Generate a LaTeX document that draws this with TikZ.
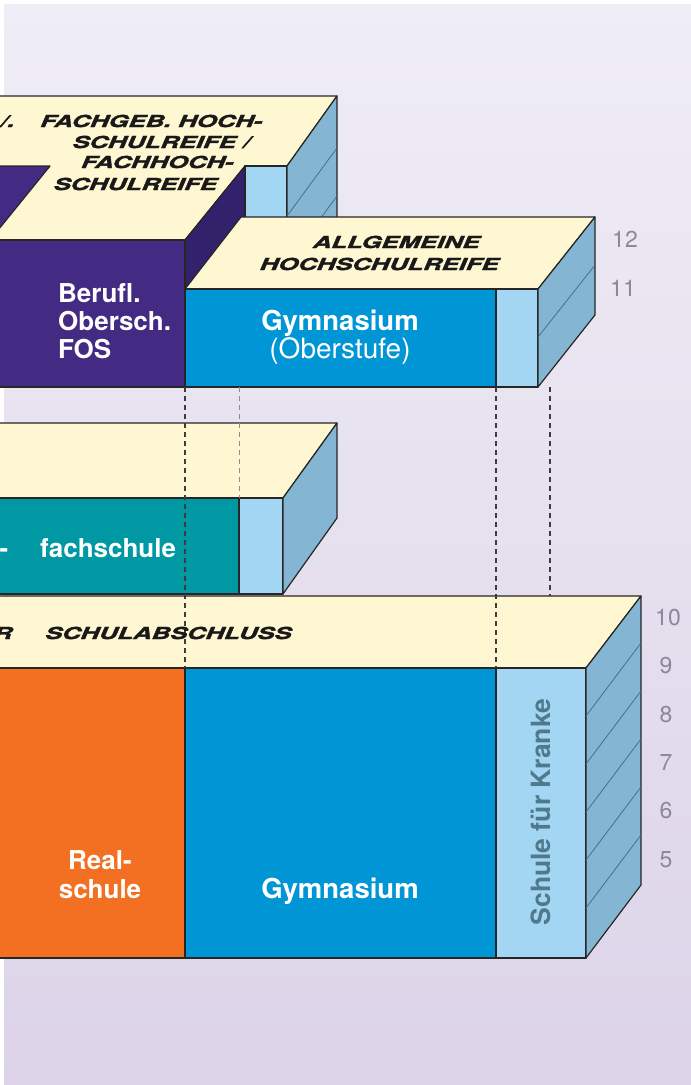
\documentclass[tikz,border=0pt]{standalone}
\usepackage{fontspec}
\setmainfont{TeX Gyre Heros}
\newfontfamily\headfont[FakeStretch=1.55,FakeBold=2.2,FakeSlant=0.1]{TeX Gyre Heros}
\definecolor{yel}{HTML}{FFF7D2}
\definecolor{purp}{HTML}{432B83}
\definecolor{dpurp}{HTML}{34216B}
\definecolor{gblue}{HTML}{0096D6}
\definecolor{lblue}{HTML}{A3D6F2}
\definecolor{sblue}{HTML}{84B5D3}
\definecolor{tealc}{HTML}{0099A3}
\definecolor{orng}{HTML}{F36F21}
\definecolor{outl}{HTML}{262626}
\definecolor{numc}{HTML}{8C8896}
\definecolor{krank}{HTML}{4F798C}
\definecolor{bgtop}{HTML}{EFEDF5}
\definecolor{bgbot}{HTML}{DCD3E8}
\definecolor{rowl}{HTML}{4D6E84}
\tikzset{
  face/.style={draw=outl, line width=1.2pt, line join=round},
  rowline/.style={draw=rowl, line width=0.8pt},
  dashdark/.style={draw=outl!90, line width=1.2pt, dash pattern=on 5pt off 4pt},
  dashgray/.style={draw=black!45, line width=1pt, dash pattern=on 5pt off 4pt},
  hd/.style={font=\headfont\fontsize{16.5}{18}\selectfont\bfseries\itshape, text=black!90, inner sep=0pt, anchor=base},
  wt/.style={font=\fontsize{26}{28}\selectfont\bfseries, text=white, inner sep=0pt, anchor=base},
  wg/.style={font=\fontsize{27.5}{29}\selectfont\bfseries, text=white, inner sep=0pt, anchor=base},
  wr/.style={font=\fontsize{28}{30}\selectfont, text=white, inner sep=0pt, anchor=base},
  num/.style={font=\fontsize{23}{24}\selectfont, text=numc, inner sep=0pt, anchor=center}
}
\begin{document}
\begin{tikzpicture}[x=1pt,y=-1pt]
\useasboundingbox (0,0) rectangle (691,1085);
\clip (0,0) rectangle (691,1085);
\fill[white] (0,0) rectangle (691,1085);
\shade[top color=bgtop, bottom color=bgbot] (4,4) rectangle (691,1085);

% ---- upper block: FOS/BOS with column behind
\path[face, fill=yel] (-10,96) -- (337,96) -- (287,166) -- (245,166) -- (185,240) -- (-10,240) -- cycle;
\path[face, fill=purp] (-10,166) -- (50,166) -- (-10,240) -- cycle;
\path[face, fill=dpurp] (185,240) -- (245,166) -- (245,315) -- (185,387) -- cycle;
\path[face, fill=lblue] (245,166) rectangle (287,320);
\path[face, fill=sblue] (287,166) -- (337,96) -- (337,250) -- (287,320) -- cycle;
\draw[rowline] (287,216) -- (337,148);
\draw[rowline] (287,264) -- (337,196);
\path[face, fill=purp] (-10,240) rectangle (185,387);

% ---- Gymnasium Oberstufe
\path[face, fill=yel] (185,289) -- (241,217) -- (595,217) -- (538,289) -- cycle;
\path[face, fill=gblue] (185,289) rectangle (496,387);
\path[face, fill=lblue] (496,289) rectangle (538,387);
\path[face, fill=sblue] (538,289) -- (595,217) -- (595,315) -- (538,387) -- cycle;
\draw[rowline] (538,337) -- (595,265);

% ---- middle block
\path[face, fill=yel] (-10,423) -- (337,423) -- (283,498) -- (-10,498) -- cycle;
\path[face, fill=tealc] (-10,498) rectangle (239,594);
\path[face, fill=lblue] (239,498) rectangle (283,594);
\path[face, fill=sblue] (283,498) -- (337,423) -- (337,518) -- (283,594) -- cycle;

% ---- bottom block
\path[face, fill=yel] (-10,596) -- (641,596) -- (586,668) -- (-10,668) -- cycle;
\path[face, fill=orng] (-10,668) rectangle (185,958);
\path[face, fill=gblue] (185,668) rectangle (496,958);
\path[face, fill=lblue] (496,668) rectangle (586,958);
\path[face, fill=sblue] (586,668) -- (641,596) -- (641,885) -- (586,958) -- cycle;
\foreach \yy in {716,764,812,860,908}
  \draw[rowline] (586,\yy) -- (641,\yy-73);

% ---- dashed guide lines
\coordinate (d1a) at (185,387); \coordinate (d1b) at (185,668);
\coordinate (d2a) at (496,387); \coordinate (d2b) at (496,668);
\coordinate (d3a) at (550,387); \coordinate (d3b) at (550,596);
\coordinate (d4a) at (239,387); \coordinate (d4b) at (239,498);
\draw[dashdark] (d1a) -- (d1b);
\draw[dashdark] (d2a) -- (d2b);
\draw[dashdark] (d3a) -- (d3b);
\draw[dashgray] (d4a) -- (d4b);

% ---- headings on top faces
\node[hd, anchor=base west] (h0) at (0,127) {/.};
\node[hd] (h1) at (151,127) {FACHGEB. HOCH-};
\node[hd] (h2) at (161,148) {SCHULREIFE /};
\node[hd] (h3) at (157,168) {FACHHOCH-};
\node[hd] (h4) at (135,190) {SCHULREIFE};
\node[hd] (h5) at (396,248) {ALLGEMEINE};
\node[hd] (h6) at (379,270) {HOCHSCHULREIFE};
\node[hd, anchor=base east] (h7) at (12,639) {R};
\node[hd] (h8) at (168,639) {SCHULABSCHLUSS};

% ---- labels on front faces
\node[wt, anchor=base west] (f1) at (58,302) {Berufl.};
\node[wt, anchor=base west] (f2) at (58,330) {Obersch.};
\node[wt, anchor=base west] (f3) at (58,358) {FOS};
\node[wg] (g1) at (340,330) {Gymnasium};
\node[wr] (g2) at (340,358) {(Oberstufe)};
\node[wt] (m0) at (4,557) {-};
\node[wt, anchor=base west] (m1) at (40,557) {fachschule};
\node[wt] (r1) at (100,869) {Real-};
\node[wt] (r2) at (100,898) {schule};
\node[wg] (g3) at (340,898) {Gymnasium};
\node[font=\fontsize{26.5}{28}\selectfont\bfseries, text=krank, inner sep=0pt, rotate=90] (k1) at (541,812) {Schule für Kranke};

% ---- grade numbers
\node[num] (n12) at (625,239) {12};
\node[num] (n11) at (623,288) {11};
\node[num] (n10) at (668,618) {10};
\node[num] (n9) at (666,666) {9};
\node[num] (n8) at (666,715) {8};
\node[num] (n7) at (666,763) {7};
\node[num] (n6) at (666,811) {6};
\node[num] (n5) at (666,860) {5};
\end{tikzpicture}
\end{document}
